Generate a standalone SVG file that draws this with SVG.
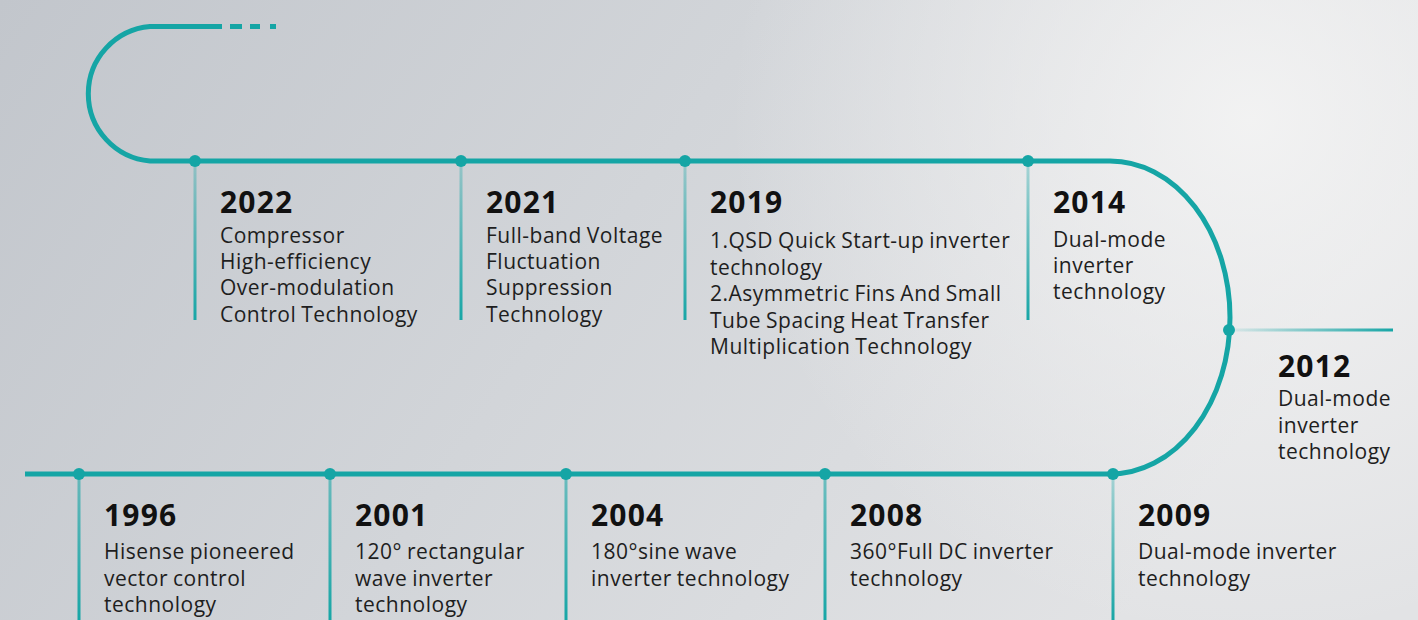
<svg xmlns="http://www.w3.org/2000/svg" width="1418" height="620" viewBox="0 0 1418 620">
<defs>
<linearGradient id="bg" x1="0" y1="0" x2="1" y2="0.3">
<stop offset="0" stop-color="#c2c6cc"/>
<stop offset="0.5" stop-color="#d2d5d9"/>
<stop offset="1" stop-color="#e2e3e5"/>
</linearGradient>
<radialGradient id="hl" cx="1250" cy="120" r="520" gradientUnits="userSpaceOnUse">
<stop offset="0" stop-color="#f4f4f4" stop-opacity="0.9"/>
<stop offset="1" stop-color="#f4f4f4" stop-opacity="0"/>
</radialGradient>
<linearGradient id="vfade" x1="0" y1="0" x2="0" y2="1">
<stop offset="0" stop-color="#17a6a6" stop-opacity="0.3"/>
<stop offset="1" stop-color="#17a6a6" stop-opacity="1"/>
</linearGradient>
<linearGradient id="vbot" x1="0" y1="0" x2="0" y2="1">
<stop offset="0" stop-color="#17a6a6" stop-opacity="0.55"/>
<stop offset="1" stop-color="#17a6a6" stop-opacity="1"/>
</linearGradient>
<linearGradient id="hfade" x1="0" y1="0" x2="1" y2="0">
<stop offset="0" stop-color="#17a6a6" stop-opacity="0.1"/>
<stop offset="1" stop-color="#17a6a6" stop-opacity="1"/>
</linearGradient>
<style>
.track{fill:none;stroke:#15a5a5;stroke-width:5}
.dot{fill:#15a5a5}
.yr{font-family:"Open Sans","Liberation Sans",sans-serif;font-weight:700;font-size:30px;letter-spacing:1.2px;fill:#111}
.tx{font-family:"Open Sans","Liberation Sans",sans-serif;font-size:21px;letter-spacing:0.5px;word-spacing:-1px;fill:#1e1e1e}
</style>
</defs>
<rect width="1418" height="620" fill="url(#bg)"/>
<rect width="1418" height="620" fill="url(#hl)"/>

<g id="connectors">
<path class="track" d="M222,26.5 H150 A67.5,67.5 0 0 0 150,161 H1110 A120,156.5 0 0 1 1110,474 H25"/>
<path class="track" d="M230,26.5 H242 M250,26.5 H260 M270,26.5 H276"/>
<rect x="193.5" y="161" width="3" height="159" fill="url(#vfade)"/>
<rect x="459.5" y="161" width="3" height="159" fill="url(#vfade)"/>
<rect x="683.5" y="161" width="3" height="159" fill="url(#vfade)"/>
<rect x="1026.5" y="161" width="3" height="159" fill="url(#vfade)"/>
<rect x="1235" y="328.5" width="158" height="3" fill="url(#hfade)"/>
<rect x="77.5" y="474" width="3" height="146" fill="url(#vbot)"/>
<rect x="328.5" y="474" width="3" height="146" fill="url(#vbot)"/>
<rect x="564.5" y="474" width="3" height="146" fill="url(#vbot)"/>
<rect x="823.5" y="474" width="3" height="146" fill="url(#vbot)"/>
<rect x="1111.5" y="474" width="3" height="146" fill="url(#vfade)"/>
</g>

<g id="n2022">
<circle class="dot" cx="195" cy="161" r="6"/>
<text class="yr" x="220" y="213">2022</text>
<text class="tx" x="220" y="243">Compressor</text>
<text class="tx" x="220" y="269">High-efficiency</text>
<text class="tx" x="220" y="295">Over-modulation</text>
<text class="tx" x="220" y="322">Control Technology</text>
</g>
<g id="n2021">
<circle class="dot" cx="461" cy="161" r="6"/>
<text class="yr" x="486" y="213">2021</text>
<text class="tx" x="486" y="243">Full-band Voltage</text>
<text class="tx" x="486" y="269">Fluctuation</text>
<text class="tx" x="486" y="295">Suppression</text>
<text class="tx" x="486" y="322">Technology</text>
</g>
<g id="n2019">
<circle class="dot" cx="685" cy="161" r="6"/>
<text class="yr" x="710" y="213">2019</text>
<text class="tx" x="710" y="248">1.QSD Quick Start-up inverter</text>
<text class="tx" x="710" y="275">technology</text>
<text class="tx" x="710" y="301">2.Asymmetric Fins And Small</text>
<text class="tx" x="710" y="328">Tube Spacing Heat Transfer</text>
<text class="tx" x="710" y="354">Multiplication Technology</text>
</g>
<g id="n2014">
<circle class="dot" cx="1028" cy="161" r="6"/>
<text class="yr" x="1053" y="213">2014</text>
<text class="tx" x="1053" y="247">Dual-mode</text>
<text class="tx" x="1053" y="273">inverter</text>
<text class="tx" x="1053" y="299">technology</text>
</g>
<g id="n2012">
<circle class="dot" cx="1229" cy="330" r="6"/>
<text class="yr" x="1278" y="377">2012</text>
<text class="tx" x="1278" y="406">Dual-mode</text>
<text class="tx" x="1278" y="433">inverter</text>
<text class="tx" x="1278" y="459">technology</text>
</g>
<g id="n2009">
<circle class="dot" cx="1113" cy="474" r="6"/>
<text class="yr" x="1138" y="526">2009</text>
<text class="tx" x="1138" y="559">Dual-mode inverter</text>
<text class="tx" x="1138" y="586">technology</text>
</g>
<g id="n2008">
<circle class="dot" cx="825" cy="474" r="6"/>
<text class="yr" x="850" y="526">2008</text>
<text class="tx" x="850" y="559">360°Full DC inverter</text>
<text class="tx" x="850" y="586">technology</text>
</g>
<g id="n2004">
<circle class="dot" cx="566" cy="474" r="6"/>
<text class="yr" x="591" y="526">2004</text>
<text class="tx" x="591" y="559">180°sine wave</text>
<text class="tx" x="591" y="586">inverter technology</text>
</g>
<g id="n2001">
<circle class="dot" cx="330" cy="474" r="6"/>
<text class="yr" x="355" y="526">2001</text>
<text class="tx" x="355" y="559">120° rectangular</text>
<text class="tx" x="355" y="586">wave inverter</text>
<text class="tx" x="355" y="612">technology</text>
</g>
<g id="n1996">
<circle class="dot" cx="79" cy="474" r="6"/>
<text class="yr" x="104" y="526">1996</text>
<text class="tx" x="104" y="559">Hisense pioneered</text>
<text class="tx" x="104" y="586">vector control</text>
<text class="tx" x="104" y="612">technology</text>
</g>
</svg>
